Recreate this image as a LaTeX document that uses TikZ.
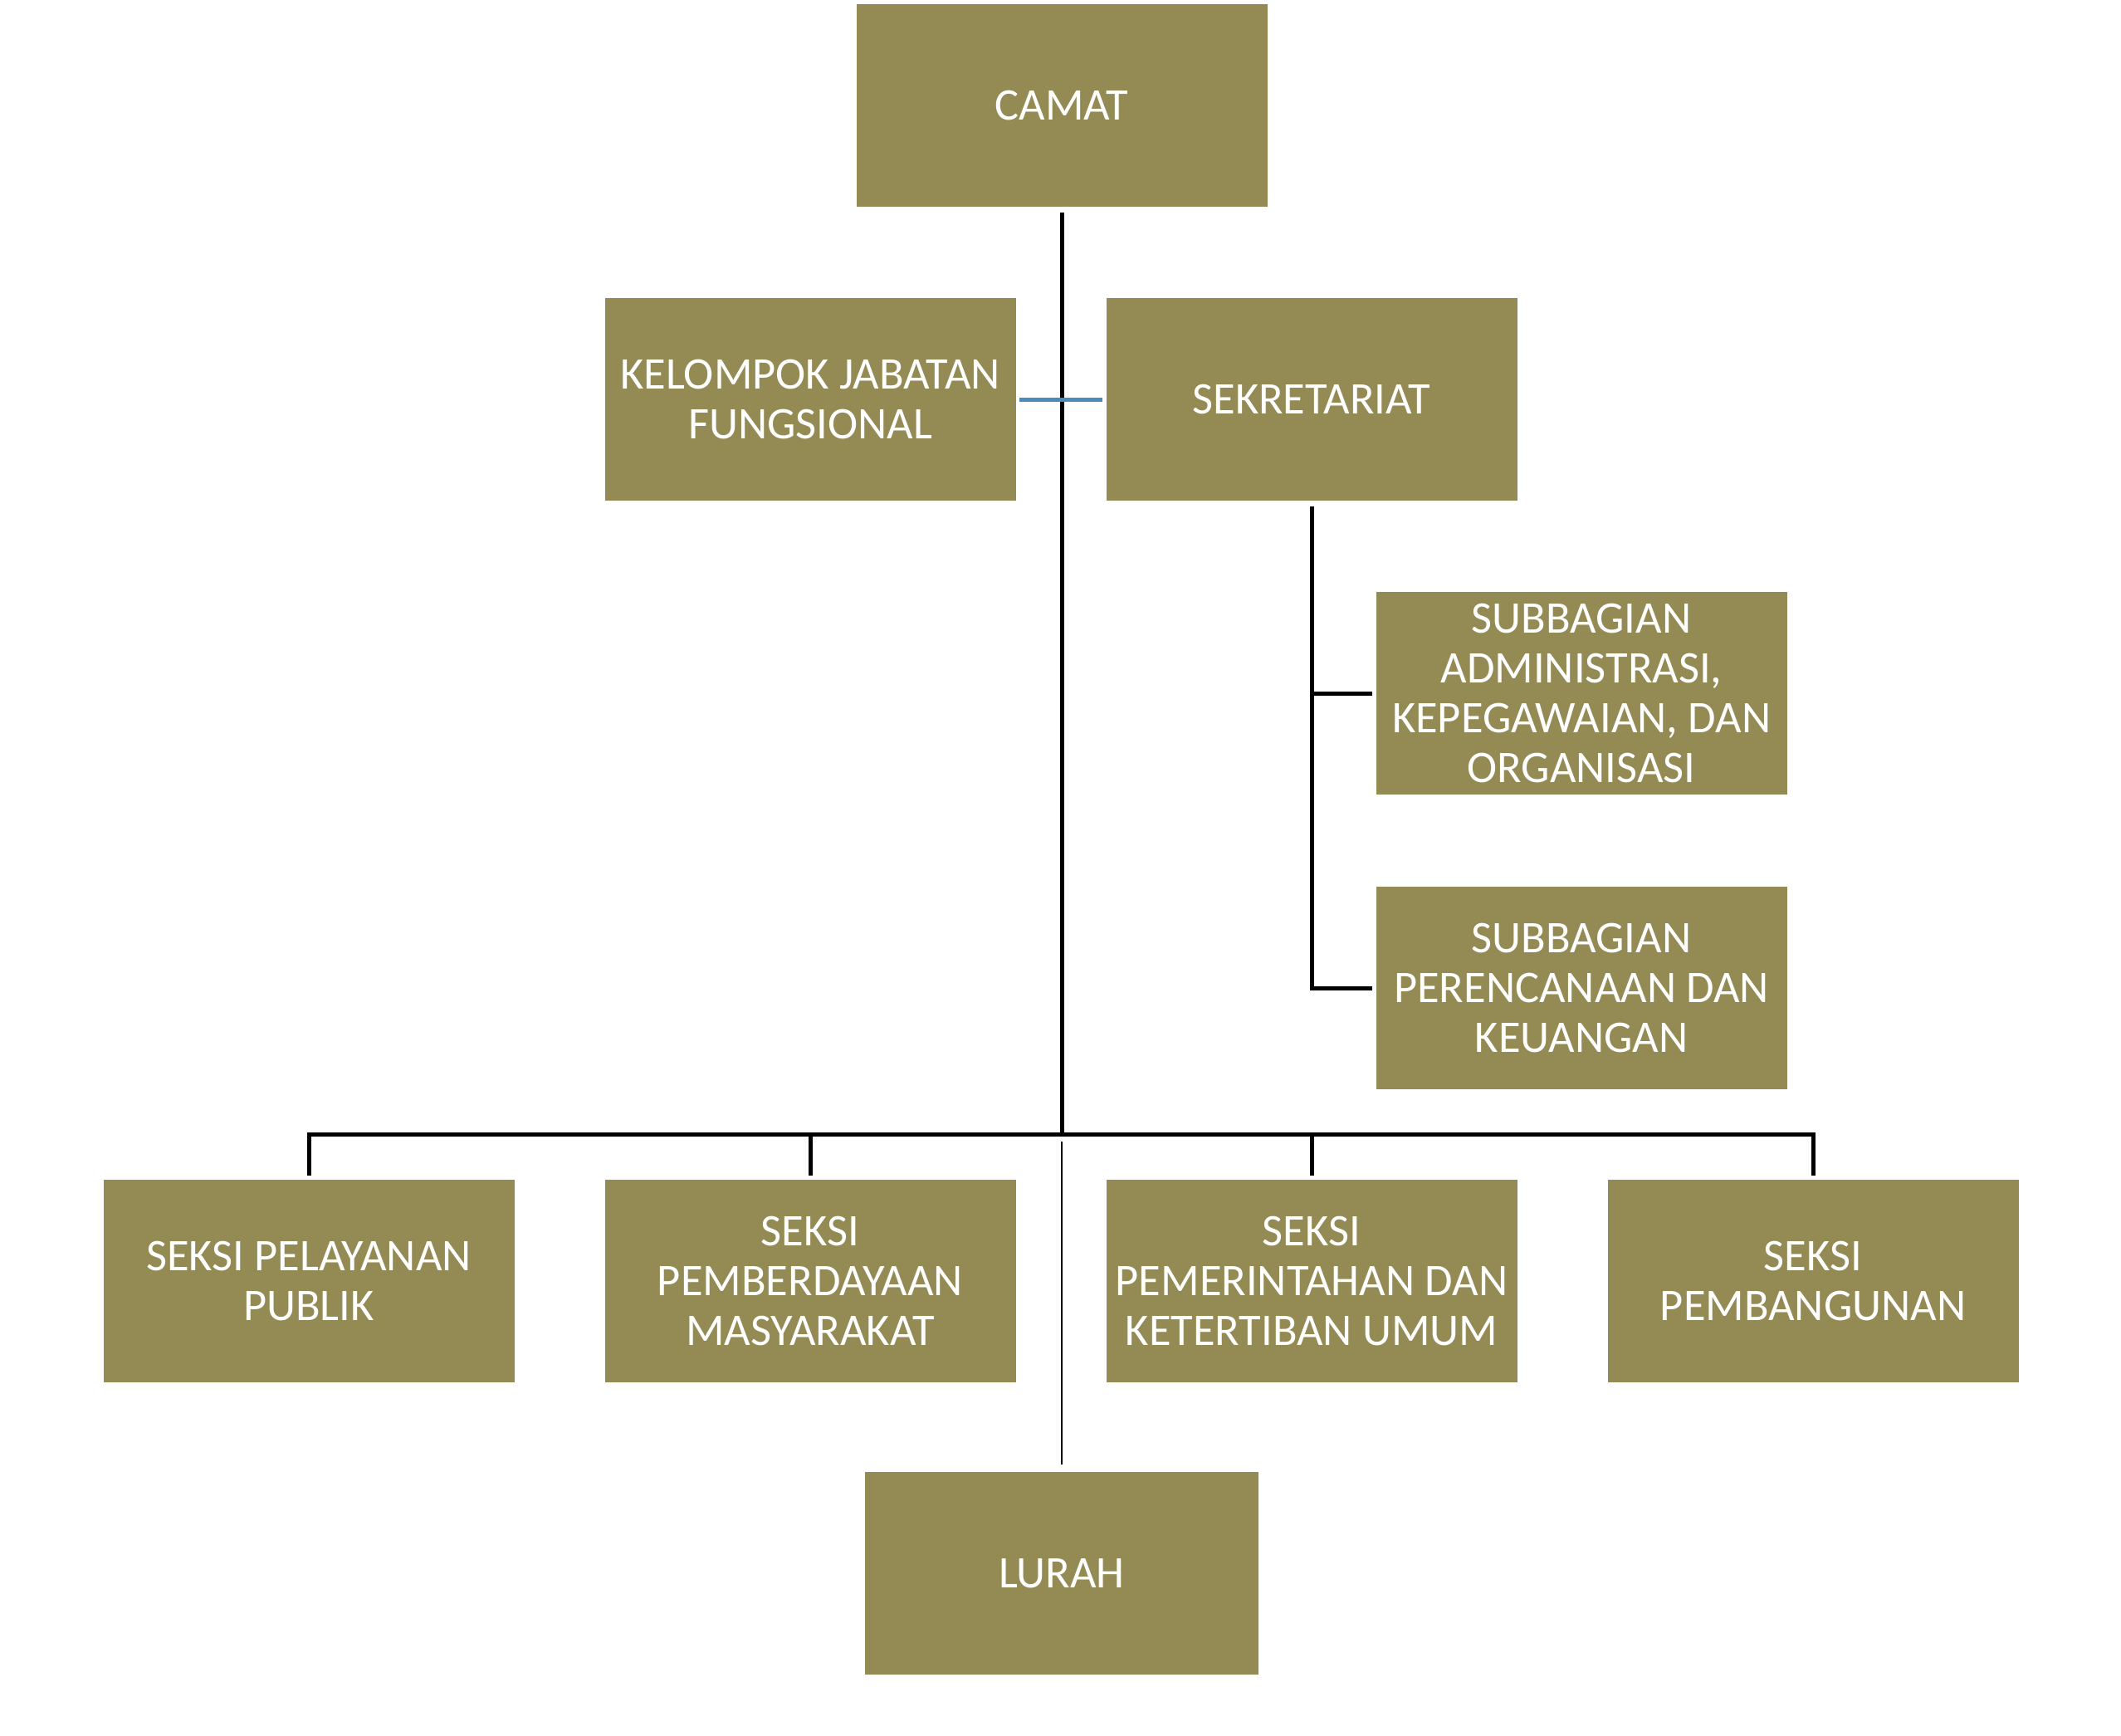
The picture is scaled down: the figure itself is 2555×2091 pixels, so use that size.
\documentclass[tikz,border=0pt]{standalone}
\usepackage{fontspec}
\setmainfont{Carlito}
\definecolor{olive}{RGB}{148,138,84}
\definecolor{linkblue}{RGB}{74,140,186}

\begin{document}
\begin{tikzpicture}[x={(0.1mm,0)}, y={(0,-0.1mm)},
    main/.style = {rectangle, fill=olive, text=white, align=center, inner sep=0pt,
        minimum width=49.5mm, minimum height=24.4mm, font=\fontsize{15.5}{17}\selectfont},
    conn/.style = {line width=0.5mm, black},
    thinconn/.style = {line width=0.2mm, black},
    bluelink/.style = {line width=0.5mm, linkblue}]
    \useasboundingbox (0,0) rectangle (2555,2091);
    \node[main] (camat) at (1279,127) {CAMAT};
    \node[main] (pelayanan) at (372,1543) {SEKSI PELAYANAN\\PUBLIK};
    \node[main] (pemberdayaan) [right of=pelayanan, node distance={60.4mm}] {SEKSI\\PEMBERDAYAAN\\MASYARAKAT};
    \node[main] (pemerintahan) [right of=pemberdayaan, node distance={60.4mm}] {SEKSI\\PEMERINTAHAN DAN\\KETERTIBAN UMUM};
    \node[main] (pembangunan) [right of=pemerintahan, node distance={60.4mm}] {SEKSI\\PEMBANGUNAN};
    \node[main] (kelompok) [above of=pemberdayaan, node distance={106.2mm}] {KELOMPOK JABATAN\\FUNGSIONAL};
    \node[main] (sekretariat) [above of=pemerintahan, node distance={106.2mm}] {SEKRETARIAT};
    \node[main] (administrasi) at (1905,835) {SUBBAGIAN\\ADMINISTRASI,\\KEPEGAWAIAN, DAN\\ORGANISASI};
    \node[main] (perencanaan) [below of=administrasi, node distance={35.5mm}] {SUBBAGIAN\\PERENCANAAN DAN\\KEUANGAN};
    \node[main, minimum width=47.4mm] (lurah) [below of=camat, node distance={176.8mm}] {LURAH};
    \coordinate (bus) at (1279,1366);
    \draw[conn] ([yshift=-0.6mm]camat.south) -- (bus);
    \draw[conn] ([yshift=0.4mm]pelayanan.north) |- (bus) -| ([yshift=0.4mm]pembangunan.north);
    \draw[conn] ([yshift=0.4mm]pemberdayaan.north) -- (pemberdayaan.north |- bus);
    \draw[conn] ([yshift=0.4mm]pemerintahan.north) -- (pemerintahan.north |- bus);
    \draw[thinconn] ([yshift=-0.9mm]bus) -- ([yshift=0.8mm]lurah.north);
    \draw[bluelink] ([xshift=0.35mm]kelompok.east) -- ([xshift=-0.35mm]sekretariat.west);
    \draw[conn] ([yshift=-0.6mm]sekretariat.south) |- ([xshift=-0.35mm]perencanaan.west);
    \draw[conn] (sekretariat.south |- administrasi.west) -- ([xshift=-0.35mm]administrasi.west);
\end{tikzpicture}
\end{document}
